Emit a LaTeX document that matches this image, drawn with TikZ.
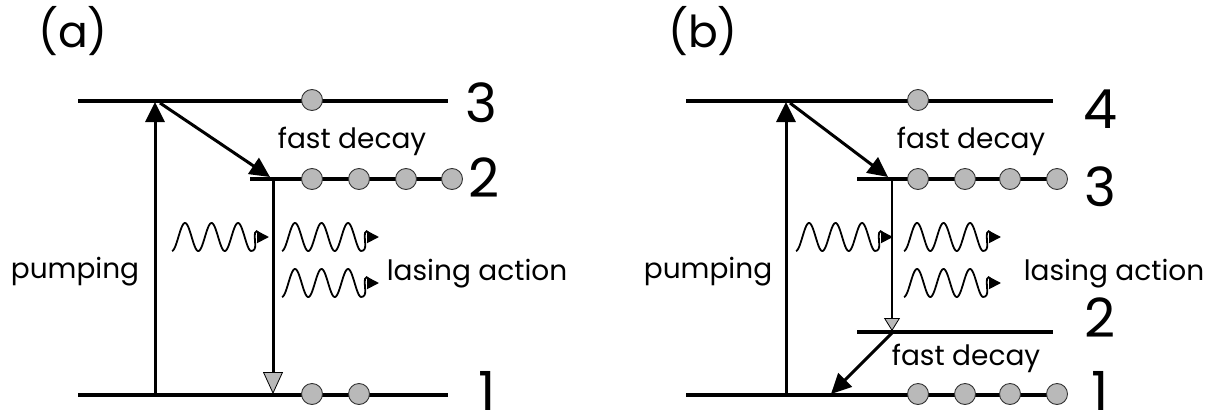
\documentclass[tikz,border=0pt]{standalone}
\usepackage{fontspec}
\setmainfont{Poppins}
\usetikzlibrary{arrows.meta}
\begin{document}
\begin{tikzpicture}[x=1pt,y=-1pt,
  lev/.style={line width=3.2pt},
  arr/.style={line width=3pt,-{Triangle[length=20pt,width=19pt]}},
  garr/.style={line width=3pt,-{Triangle[length=22pt,width=20pt,fill=gray!55,line width=0.8pt]}},
  tgarr/.style={line width=1.8pt,-{Triangle[length=13pt,width=16pt,fill=gray!55,line width=0.8pt]}},
  dot/.style={circle,draw=black!80,fill=gray!55,line width=0.9pt,minimum size=21pt,inner sep=0pt},
  txt/.style={font=\fontsize{28}{30}\selectfont,inner sep=0pt,anchor=base},
  num/.style={font=\fontsize{54}{56}\selectfont,inner sep=0pt,anchor=base,text depth=0pt},
  pan/.style={font=\fontsize{44}{46}\selectfont,inner sep=0pt,anchor=base},
  wave/.style={line width=1.8pt,-{Triangle[length=12pt,width=12pt]}},
  photon/.pic={\draw[wave] plot[domain=0:79,samples=120,smooth,variable=\x] (\x,{-14*sin(13.585*(\x-6.4))}) to[out=0,in=-100] (83,-4) to[out=80,in=180] (97,0);}
]
\useasboundingbox (0,0) rectangle (1214,412);
% ===== panel (a) =====
\node[pan] (la) at (73,48) {(a)};
\coordinate (a3l) at (78,101);  \coordinate (a3r) at (448,101);
\coordinate (a2l) at (250,179); \coordinate (a2r) at (452,179);
\coordinate (a1l) at (78,395);  \coordinate (a1r) at (448,395);
\draw[lev] (a3l) -- (a3r);
\draw[lev] (a2l) -- (a2r);
\draw[lev] (a1l) -- (a1r);
\node[dot] (ad1) at (312,100) {};
\node[dot] (ad2) at (312,179) {};
\node[dot] (ad3) at (359,179) {};
\node[dot] (ad4) at (406,179) {};
\node[dot] (ad5) at (452,179) {};
\node[dot] (ad6) at (312,394) {};
\node[dot] (ad7) at (359,394) {};
\node[num] (an3) at (481,122) {3};
\node[num] (an2) at (484,197) {2};
\node[num] (an1) at (487,410) {1};
\coordinate (apb) at (155,395); \coordinate (apt) at (155,102);
\coordinate (ads) at (160,103); \coordinate (ade) at (270,177);
\coordinate (als) at (273,180); \coordinate (ale) at (273,394);
\draw[arr] (apb) -- (apt);
\draw[arr] (ads) -- (ade);
\draw[garr] (als) -- (ale);
\node[txt] (afd) at (352,148) {fast decay};
\node[txt] (apu) at (75,278) {pumping};
\node[txt] (ala) at (477,280) {lasing action};
\pic at (172,237) {photon};
\pic at (282,237) {photon};
\pic at (282,283) {photon};
% ===== panel (b) =====
\node[pan] (lb) at (703,48) {(b)};
\coordinate (b4l) at (686,101);  \coordinate (b4r) at (1053,101);
\coordinate (b3l) at (857,179);  \coordinate (b3r) at (1057,179);
\coordinate (b2l) at (857,332);  \coordinate (b2r) at (1053,332);
\coordinate (b1l) at (686,395);  \coordinate (b1r) at (1057,395);
\draw[lev] (b4l) -- (b4r);
\draw[lev] (b3l) -- (b3r);
\draw[lev] (b2l) -- (b2r);
\draw[lev] (b1l) -- (b1r);
\node[dot] (bd1) at (918,100) {};
\node[dot] (bd2) at (918,179) {};
\node[dot] (bd3) at (965,179) {};
\node[dot] (bd4) at (1010,179) {};
\node[dot] (bd5) at (1057,179) {};
\node[dot] (bd6) at (918,394) {};
\node[dot] (bd7) at (965,394) {};
\node[dot] (bd8) at (1010,394) {};
\node[dot] (bd9) at (1057,394) {};
\node[num] (bn4) at (1100,128) {4};
\node[num] (bn3) at (1100,206) {3};
\node[num] (bn2) at (1100,337) {2};
\node[num] (bn1) at (1100,410) {1};
\coordinate (bpb) at (786,395); \coordinate (bpt) at (786,102);
\coordinate (bds) at (790,103); \coordinate (bde) at (888,177);
\coordinate (bls) at (892,180); \coordinate (ble) at (892,331);
\coordinate (bfs) at (892,333); \coordinate (bfe) at (831,394);
\draw[arr] (bpb) -- (bpt);
\draw[arr] (bds) -- (bde);
\draw[tgarr] (bls) -- (ble);
\draw[arr] (bfs) -- (bfe);
\node[txt] (bfd) at (971,148) {fast decay};
\node[txt] (bfd2) at (966,365) {fast decay};
\node[txt] (bpu) at (708,278) {pumping};
\node[txt] (bla) at (1114,280) {lasing action};
\pic at (796,237) {photon};
\pic at (904,237) {photon};
\pic at (904,283) {photon};
\end{tikzpicture}
\end{document}
